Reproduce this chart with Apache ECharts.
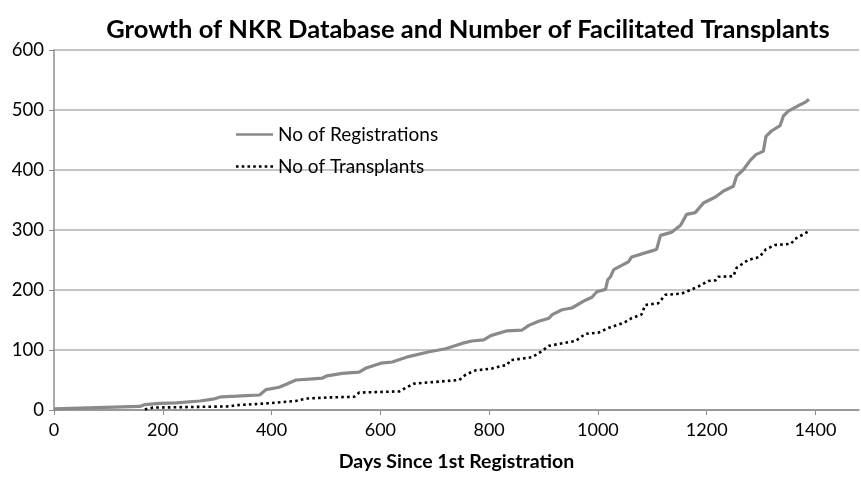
<!DOCTYPE html>
<html><head><meta charset="utf-8">
<script src="https://cdn.jsdelivr.net/npm/echarts@6/dist/echarts.min.js"></script>
<style>html,body{margin:0;padding:0;background:#fff}#c{width:861px;height:477px}</style>
</head><body><div id="c"></div>
<script>
var regDays = [0, 78, 158, 167, 194, 225, 268, 292, 308, 335, 378, 390, 414, 427, 445, 476, 493, 502, 530, 561, 574, 601, 622, 652, 690, 720, 750, 768, 790, 803, 833, 860, 873, 891, 910, 916, 934, 952, 977, 989, 998, 1014, 1018, 1023, 1029, 1056, 1062, 1102, 1108, 1115, 1135, 1152, 1163, 1179, 1194, 1216, 1231, 1249, 1255, 1267, 1280, 1291, 1304, 1309, 1319, 1335, 1341, 1350, 1368, 1377, 1383, 1388];
var regValues = [2, 4, 6, 9, 11, 12, 15, 18, 22, 23, 25, 34, 38, 43, 50, 52, 53, 57, 61, 63, 70, 78, 80, 89, 97, 102, 111, 115, 117, 124, 132, 133, 141, 148, 153, 159, 167, 170, 183, 188, 197, 201, 217, 222, 234, 247, 255, 266, 268, 291, 296, 308, 326, 329, 345, 355, 365, 373, 390, 400, 416, 426, 431, 456, 465, 474, 490, 498, 507, 511, 514, 518];
var txDays = [167, 182, 323, 335, 390, 445, 463, 506, 552, 561, 635, 647, 662, 745, 757, 775, 805, 821, 833, 839, 879, 895, 910, 940, 959, 977, 1001, 1020, 1047, 1062, 1080, 1087, 1111, 1124, 1154, 1170, 1185, 1203, 1216, 1221, 1249, 1255, 1276, 1297, 1309, 1326, 1355, 1362, 1390];
var txValues = [1, 4, 6, 8, 11, 15, 19, 21, 22, 29, 31, 37, 44, 50, 59, 66, 69, 73, 75, 83, 88, 97, 107, 112, 115, 127, 129, 137, 145, 153, 159, 175, 178, 192, 194, 200, 206, 215, 216, 222, 223, 237, 250, 255, 268, 275, 277, 285, 299];
var xTicks = [0, 200, 400, 600, 800, 1000, 1200, 1400];
var yTicks = [0, 100, 200, 300, 400, 500, 600];

function zip(a, b) { return a.map(function (d, i) { return [d, b[i]]; }); }
var FONT = 'Lato';
var dotIcon = 'path://';
for (var k = 0; k < 7; k++) { dotIcon += 'M' + (k * 5.5) + ',5 h2.5 v2.5 h-2.5 Z '; }
var chart = echarts.init(document.getElementById('c'));
chart.setOption({
  animation: false,
  backgroundColor: '#fff',
  title: {
    text: 'Growth of NKR Database and Number of Facilitated Transplants',
    left: 463, top: 12, textAlign: 'center',
    textStyle: { fontFamily: FONT, fontWeight: 'bold', fontSize: 25.5, color: '#000' }
  },
  legend: {
    orient: 'vertical', left: 231, top: 120, itemGap: 13, itemWidth: 37, itemHeight: 12,
    textStyle: { fontFamily: FONT, fontSize: 19, color: '#000' },
    data: [
      { name: 'No of Registrations', icon: 'path://M0,5 L40,5 L40,7.5 L0,7.5 Z' },
      { name: 'No of Transplants', icon: dotIcon }
    ]
  },
  grid: { left: 54, right: 2, top: 50, bottom: 62, containLabel: false },
  xAxis: {
    type: 'value', min: 0, max: 1480, interval: 200,
    name: 'Days Since 1st Registration', nameLocation: 'middle', nameGap: 42,
    nameTextStyle: { fontFamily: FONT, fontWeight: 'bold', fontSize: 19.5, color: '#000' },
    axisLine: { lineStyle: { color: '#8c8c8c', width: 1.5 } },
    axisTick: { show: true, length: 5, lineStyle: { color: '#8c8c8c' } },
    axisLabel: { fontFamily: FONT, fontSize: 18, color: '#000', margin: 11, showMaxLabel: false,
      formatter: function (v) { return xTicks.indexOf(v) >= 0 ? String(v) : ''; } },
    splitLine: { show: false }
  },
  yAxis: {
    type: 'value', min: 0, max: 600, interval: 100,
    axisLine: { show: true, lineStyle: { color: '#8c8c8c', width: 1.5 } },
    axisTick: { show: true, length: 5, lineStyle: { color: '#8c8c8c' } },
    axisLabel: { fontFamily: FONT, fontSize: 18.5, color: '#000', margin: 10,
      formatter: function (v) { return yTicks.indexOf(v) >= 0 ? String(v) : ''; } },
    splitLine: { lineStyle: { color: '#b3b3b3', width: 1.5 } }
  },
  series: [
    {
      name: 'No of Registrations', type: 'line', data: zip(regDays, regValues),
      showSymbol: false, symbol: 'none', smooth: false,
      itemStyle: { color: '#8a8a8a' },
      lineStyle: { color: '#8a8a8a', width: 3.2 }
    },
    {
      name: 'No of Transplants', type: 'line', data: zip(txDays, txValues),
      showSymbol: false, symbol: 'none', smooth: false,
      itemStyle: { color: '#000' },
      lineStyle: { color: '#000', width: 2.6, type: [2.6, 3.2], cap: 'butt' }
    }
  ]
});
</script></body></html>
